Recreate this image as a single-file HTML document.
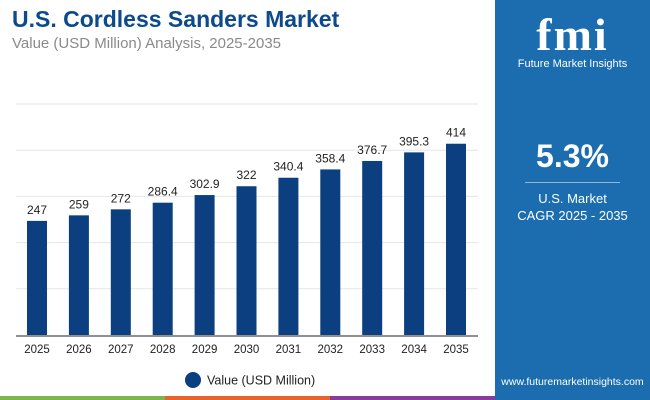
<!DOCTYPE html>
<html><head><meta charset="utf-8"><style>
body{margin:0;width:650px;height:400px;overflow:hidden;background:#fff;font-family:"Liberation Sans",sans-serif;position:relative}
.t{position:absolute;left:12px;top:6px;font-size:23px;font-weight:bold;color:#0c4a8c}
.s{position:absolute;left:12px;top:35px;font-size:15px;color:#8a8a8a}
.p{position:absolute;left:495px;top:0;width:155px;height:396px;background:#1b6db0}
</style></head><body>
<div class="t">U.S. Cordless Sanders Market</div>
<div class="s">Value (USD Million) Analysis, 2025-2035</div>
<div class="p">
<div style="position:absolute;left:0;top:8px;width:155px;text-align:center;color:#fff;font:bold 46px 'Liberation Serif',serif;letter-spacing:2px">fmi</div>
<div style="position:absolute;left:0;top:58px;width:155px;text-align:center;color:#fff;font-size:11px">Future Market Insights</div>
<div style="position:absolute;left:0;top:138px;width:155px;text-align:center;color:#fff;font-size:32px;font-weight:bold">5.3%</div>
<div style="position:absolute;left:30px;top:182px;width:95px;height:1px;background:#8fb8dc"></div>
<div style="position:absolute;left:0;top:190px;width:155px;text-align:center;color:#fff;font-size:13px;line-height:17px">U.S. Market<br>CAGR 2025 - 2035</div>
<div style="position:absolute;left:0;top:376px;width:155px;text-align:center;color:#fff;font-size:10.5px">www.futuremarketinsights.com</div>
</div>
<svg id="c" width="495" height="400" style="position:absolute;left:0;top:0"></svg>
<div style="position:absolute;left:0;top:396px;width:165px;height:4px;background:#7ab648"></div>
<div style="position:absolute;left:165px;top:396px;width:165px;height:4px;background:#e8632a"></div>
<div style="position:absolute;left:330px;top:396px;width:165px;height:4px;background:#8a3a9a"></div>
<div style="position:absolute;left:495px;top:396px;width:155px;height:4px;background:#1b6db0"></div>
<script>
const categories=["2025","2026","2027","2028","2029","2030","2031","2032","2033","2034","2035"];
const values=[247,259,272,286.4,302.9,322,340.4,358.4,376.7,395.3,414];
const labels=["247","259","272","286.4","302.9","322","340.4","358.4","376.7","395.3","414"];
const gridTicks=[100,200,300,400,500];
const svg=document.getElementById('c');const NS='http://www.w3.org/2000/svg';
const y0=335,k=0.462,x0=37,dx=41.9;
const y=v=>y0-v*k,x=i=>x0+i*dx;
function mk(t,a){const e=document.createElementNS(NS,t);for(const n in a)e.setAttribute(n,a[n]);svg.appendChild(e);return e;}
gridTicks.forEach(g=>{const l=mk('line',{x1:16,x2:478,y1:y(g),y2:y(g),stroke:'#e6e6e6'});

});
values.forEach((v,i)=>{
const r=mk('rect',{x:x(i)-10,y:y(v),width:20,height:v*k,fill:'#0b3f80'});


const t=mk('text',{x:x(i),y:y(v)-7,'text-anchor':'middle','font-size':12,fill:'#222'});t.textContent=labels[i];


const c=mk('text',{x:x(i),y:353,'text-anchor':'middle','font-size':11.5,fill:'#222'});c.textContent=categories[i];


});
const ax=mk('line',{x1:16,x2:478,y1:y0+1,y2:y0+1,stroke:'#222'});


const lc=mk('circle',{cx:193,cy:380,r:8,fill:'#0b3f80'});


const lt=mk('text',{x:207,y:384.5,'font-size':12.5,fill:'#222'});lt.textContent='Value (USD Million)';


</script>
</body></html>
